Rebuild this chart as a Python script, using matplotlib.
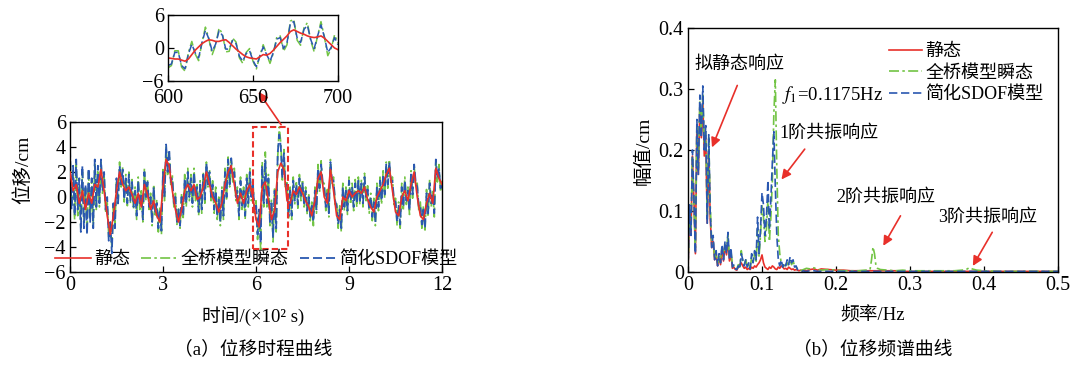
import numpy as np
import matplotlib
matplotlib.use('Agg')
import matplotlib.pyplot as plt
from matplotlib.patches import Rectangle

plt.rcParams['font.family'] = ['Liberation Serif', 'Noto Sans CJK SC', 'DejaVu Sans']
plt.rcParams['mathtext.fontset'] = 'stix'
plt.rcParams['axes.unicode_minus'] = True

# ---- time history (s, cm) ----
t_red = np.arange(0, 1201, 10)
disp_static = [
    2.0, 0.5, 1.0, -0.5, 0.5, -1.0, 0.3, -0.5, 1.0, 0.8,
    2.2, 0.5, -1.5, -3.0, -1.5, 0.5, 2.0, 1.0, 0.5, 0.8,
    0.2, -0.5, 0.3, -0.8, 1.0, 0.2, -1.0, -0.3, -1.5, -2.0,
    0.8, 3.0, 2.5, 0.5, -1.0, -2.0, -1.0, 0.5, 1.0, 0.5,
    1.0, -0.2, 0.0, 0.8, 2.0, 1.0, 0.0, -0.5, -1.2, -0.5,
    1.0, 2.0, 2.5, 1.0, -0.5, 0.3, -0.5, 0.5, 1.0, 0.0,
    -1.8, -2.4, 0.8, 1.2, -0.3, -1.8, -1.0, 2.0, 2.7, 2.2,
    -0.3, -0.5, 0.5, 0.2, 0.8, 0.3, -0.3, -0.8, -1.5, -0.3,
    1.5, 2.0, 0.0, -0.5, 2.2, 0.5, -1.5, -1.8, 0.0, -0.3,
    0.5, 0.0, 0.3, 0.5, 0.3, 0.8, -0.2, -0.8, -1.2, 0.0,
    0.5, 1.0, 1.8, 2.3, 0.5, -1.2, -1.5, 0.0, 0.5, -0.3,
    1.0, 2.0, 0.0, -1.5, -1.8, -0.5, 0.3, -0.5, 2.3, 1.5,
    1.0]

t_dyn = np.arange(0, 1201, 5)
disp_full = [
    3.2, -0.5, 2.0, -1.8, 2.8, -1.5, 1.0, -2.5, 2.0, -2.2,
    0.8, -2.8, 2.0, -1.8, 1.2, -2.2, 2.6, -1.0, 2.4, -0.8,
    2.8, 0.2, 1.8, -1.3, -0.3, -3.2, -2.2, -4.0, -0.8, -2.2,
    1.3, -0.7, 2.8, 0.8, 2.4, -0.4, 1.8, -0.7, 2.0, -0.5,
    1.4, -1.0, 0.8, -1.8, 1.6, -1.0, 0.5, -2.0, 2.3, -0.3,
    1.4, -1.0, 0.3, -2.3, 1.0, -1.6, -0.2, -2.8, -0.8, -3.0,
    2.2, -0.3, 4.0, 1.8, 3.6, 1.0, 1.8, -0.8, 0.3, -2.2,
    -0.8, -2.5, 0.3, -1.8, 1.8, -0.8, 2.3, -0.3, 1.8, -0.8,
    2.3, -0.3, 1.0, -1.5, 1.3, -1.3, 2.0, -0.5, 2.8, 0.8,
    2.2, -0.3, 1.3, -1.3, 0.8, -1.8, 0.0, -2.3, 0.8, -1.8,
    2.3, -0.3, 3.2, 0.8, 3.0, 1.2, 2.3, -0.3, 0.8, -1.8,
    1.6, -1.0, 0.8, -1.8, 1.8, -0.8, 2.3, -0.3, 1.3, -1.3,
    -0.3, -3.4, -1.3, -4.2, 2.8, -0.8, 3.6, -0.8, 1.8, -2.3,
    -0.2, -3.6, 0.8, -2.8, 3.2, 5.6, 4.3, 1.2, 3.8, 0.8,
    1.3, -1.8, 0.8, -1.8, 1.6, -0.6, 1.3, -0.9, 1.8, -0.3,
    1.4, -0.8, 0.8, -1.4, 0.3, -1.9, -0.4, -2.3, 0.8, -1.3,
    2.6, 0.4, 2.9, 0.9, 1.1, -1.1, 0.6, -1.6, 3.0, 1.1,
    1.6, -0.6, -0.4, -2.5, -0.7, -2.8, 1.1, -1.1, 0.8, -1.4,
    1.6, -0.6, 1.1, -1.1, 1.4, -0.8, 1.6, -0.6, 1.4, -0.8,
    1.9, -0.3, 0.9, -1.3, 0.3, -1.9, -0.1, -2.3, 1.1, -1.1,
    1.6, -0.6, 2.1, -0.1, 2.8, 0.7, 3.0, 1.0, 1.6, -0.6,
    -0.1, -2.3, -0.4, -2.5, 1.1, -1.1, 1.6, -0.6, 0.8, -1.4,
    2.1, -0.1, 2.5, 0.9, 1.1, -1.1, -0.4, -2.5, -0.7, -2.8,
    0.6, -1.6, 1.4, -0.8, 0.6, -1.6, 2.8, 1.2, 2.6, 0.4,
    1.3]
disp_sdof = [
    3.9, -1.0, 2.5, -1.5, 3.0, -1.0, 1.5, -2.8, 2.5, -2.5,
    1.0, -3.0, 2.3, -2.0, 1.5, -2.5, 3.0, -0.8, 2.5, -0.5,
    3.0, 0.5, 2.0, -1.0, 0.0, -3.5, -2.0, -4.5, -0.5, -2.5,
    1.5, -0.5, 2.5, 1.0, 2.2, -0.2, 1.5, -0.5, 1.8, -0.3,
    1.2, -0.8, 0.5, -1.5, 1.3, -0.7, 0.2, -1.8, 2.0, 0.0,
    1.2, -0.8, 0.0, -2.0, 0.8, -1.3, -0.5, -2.5, -1.0, -2.7,
    2.0, 0.0, 4.2, 2.0, 3.8, 1.2, 1.5, -0.5, 0.0, -2.0,
    -1.0, -2.3, 0.0, -1.5, 1.5, -0.5, 2.0, 0.0, 1.5, -0.5,
    2.0, 0.0, 0.8, -1.2, 1.0, -1.0, 1.8, -0.2, 2.7, 1.0,
    2.0, 0.0, 1.0, -1.0, 0.5, -1.5, -0.2, -2.0, 0.5, -1.5,
    2.0, 0.0, 3.0, 1.0, 3.1, 1.5, 2.0, 0.0, 0.5, -1.5,
    1.3, -0.7, 0.5, -1.5, 1.5, -0.5, 2.0, 0.0, 1.0, -1.0,
    -0.5, -3.0, -1.0, -3.7, 2.5, -0.5, 3.0, -0.5, 1.5, -2.0,
    -0.5, -3.2, 0.5, -2.5, 3.5, 5.0, 4.0, 1.5, 3.5, 1.0,
    1.0, -1.5, 0.5, -1.5, 1.3, -0.3, 1.0, -0.6, 1.5, 0.0,
    1.1, -0.5, 0.5, -1.1, 0.0, -1.6, -0.7, -2.0, 0.5, -1.0,
    2.3, 0.7, 2.6, 1.2, 0.8, -0.8, 0.3, -1.3, 2.8, 1.4,
    1.3, -0.3, -0.7, -2.2, -1.0, -2.5, 0.8, -0.8, 0.5, -1.1,
    1.3, -0.3, 0.8, -0.8, 1.1, -0.5, 1.3, -0.3, 1.1, -0.5,
    1.6, 0.0, 0.6, -1.0, 0.0, -1.6, -0.4, -2.0, 0.8, -0.8,
    1.3, -0.3, 1.8, 0.2, 2.6, 1.0, 2.8, 1.3, 1.3, -0.3,
    -0.4, -2.0, -0.7, -2.2, 0.8, -0.8, 1.3, -0.3, 0.5, -1.1,
    1.8, 0.2, 2.6, 1.2, 0.8, -0.8, -0.7, -2.2, -1.0, -2.5,
    0.3, -1.3, 1.1, -0.5, 0.3, -1.3, 3.0, 1.5, 2.3, 0.7,
    1.0]

# ---- zoomed window 600-700 s ----
t_zoom = np.arange(600, 701, 2)
zoom_static = [
    -1.8, -1.9, -2.0, -2.0, -2.2, -2.4, -2.0, -1.2, -0.4, 0.2,
    0.8, 1.2, 1.5, 1.4, 1.2, 1.2, 1.4, 1.5, 1.0, 0.4,
    -0.2, -0.7, -1.2, -1.6, -1.8, -1.9, -2.0, -1.6, -1.2, -1.3,
    -1.0, -0.4, 0.3, 1.0, 1.6, 2.2, 3.0, 3.3, 3.0, 2.7,
    2.5, 2.2, 2.0, 1.9, 2.0, 2.2, 1.8, 1.2, 0.6, 0.0,
    -0.3]
zoom_full = [
    -3.6, -3.2, -0.5, -0.5, -3.5, -4.2, -0.8, 1.2, -1.1, -2.3,
    1.0, 3.8, 1.7, -1.2, 0.5, 3.6, 2.6, -0.7, -0.6, 1.8,
    1.1, -1.8, -2.8, -0.8, -0.1, -2.4, -3.8, -1.4, 0.6, -1.1,
    -2.8, -0.9, 2.0, 2.2, -0.6, 0.6, 4.9, 5.2, 1.4, 0.5,
    3.7, 4.6, 1.3, -0.7, 2.2, 4.8, 2.0, -1.4, -0.1, 2.4,
    0.9]
zoom_sdof = [
    -3.2, -2.9, -0.8, -0.8, -3.2, -3.8, -1.1, 0.7, -0.9, -1.8,
    1.0, 3.2, 1.7, -0.6, 0.7, 3.1, 2.3, -0.2, -0.2, 1.4,
    0.8, -1.5, -2.4, -1.0, -0.5, -2.3, -3.4, -1.5, 0.2, -1.2,
    -2.4, -0.8, 1.6, 1.9, -0.1, 1.0, 4.5, 4.8, 1.8, 1.0,
    3.4, 4.1, 1.5, -0.1, 2.2, 4.2, 2.0, -0.8, 0.1, 1.9,
    0.6]

# ---- amplitude spectrum (Hz, cm) ----
f_low = np.arange(0, 0.1601, 0.002)
f_tail = [0.165, 0.17, 0.175, 0.18, 0.19, 0.2, 0.21, 0.22, 0.23, 0.24,
          0.246, 0.248, 0.25, 0.252, 0.254, 0.256, 0.26, 0.27, 0.28, 0.29,
          0.3, 0.32, 0.34, 0.36, 0.37, 0.376, 0.38, 0.384, 0.39, 0.4,
          0.42, 0.44, 0.46, 0.48, 0.5]
amp_static = [
    0.00, 0.10, 0.06, 0.19, 0.12, 0.03, 0.24, 0.16, 0.27, 0.22,
    0.28, 0.19, 0.22, 0.08, 0.20, 0.09, 0.04, 0.05, 0.02, 0.03,
    0.01, 0.025, 0.012, 0.04, 0.018, 0.045, 0.028, 0.05, 0.018, 0.03,
    0.006, 0.008, 0.004, 0.003, 0.008, 0.012, 0.015, 0.01, 0.006, 0.008,
    0.004, 0.006, 0.004, 0.008, 0.006, 0.01, 0.008, 0.012, 0.015, 0.02,
    0.028, 0.015, 0.008, 0.006, 0.004, 0.008, 0.006, 0.01, 0.008, 0.005,
    0.004, 0.008, 0.006, 0.01, 0.008, 0.005, 0.006, 0.004, 0.008, 0.006,
    0.004, 0.005, 0.003, 0.004, 0.003, 0.002, 0.003, 0.002, 0.002, 0.003,
    0.002,
    0.004, 0.005, 0.003, 0.005, 0.004, 0.003, 0.003, 0.002, 0.002, 0.002,
    0.002, 0.002, 0.002, 0.002, 0.002, 0.002, 0.002, 0.002, 0.002, 0.001,
    0.001, 0.001, 0.001, 0.001, 0.001, 0.001, 0.001, 0.001, 0.001, 0.001,
    0.001, 0.001, 0.001, 0.001, 0.001]
amp_full = [
    0.00, 0.10, 0.07, 0.19, 0.11, 0.04, 0.24, 0.17, 0.28, 0.23,
    0.29, 0.21, 0.23, 0.09, 0.22, 0.11, 0.05, 0.05, 0.025, 0.03,
    0.015, 0.025, 0.02, 0.04, 0.025, 0.045, 0.035, 0.06, 0.025, 0.035,
    0.01, 0.01, 0.006, 0.005, 0.012, 0.008, 0.035, 0.018, 0.012, 0.02,
    0.01, 0.012, 0.006, 0.025, 0.018, 0.03, 0.015, 0.07, 0.025, 0.06,
    0.11, 0.09, 0.05, 0.07, 0.12, 0.05, 0.09, 0.15, 0.26, 0.315,
    0.17, 0.06, 0.03, 0.015, 0.012, 0.01, 0.012, 0.015, 0.01, 0.02,
    0.012, 0.018, 0.01, 0.008, 0.005, 0.004, 0.003, 0.003, 0.004, 0.005,
    0.006,
    0.005, 0.007, 0.004, 0.003, 0.004, 0.003, 0.002, 0.002, 0.002, 0.003,
    0.004, 0.02, 0.041, 0.03, 0.01, 0.006, 0.004, 0.003, 0.002, 0.003,
    0.002, 0.002, 0.002, 0.002, 0.003, 0.004, 0.007, 0.005, 0.003, 0.002,
    0.001, 0.001, 0.001, 0.001, 0.001]
amp_sdof = [
    0.00, 0.11, 0.06, 0.20, 0.12, 0.03, 0.25, 0.16, 0.29, 0.22,
    0.305, 0.20, 0.24, 0.08, 0.225, 0.10, 0.04, 0.06, 0.02, 0.035,
    0.01, 0.03, 0.015, 0.045, 0.02, 0.05, 0.03, 0.065, 0.02, 0.04,
    0.008, 0.012, 0.005, 0.004, 0.01, 0.005, 0.03, 0.02, 0.01, 0.02,
    0.008, 0.015, 0.005, 0.03, 0.015, 0.035, 0.02, 0.09, 0.03, 0.07,
    0.13, 0.11, 0.06, 0.09, 0.15, 0.07, 0.12, 0.18, 0.23, 0.14,
    0.06, 0.02, 0.01, 0.02, 0.008, 0.015, 0.01, 0.02, 0.012, 0.025,
    0.015, 0.02, 0.008, 0.01, 0.004, 0.003, 0.002, 0.001, 0.002, 0.001,
    0.001,
    0.002, 0.002, 0.001, 0.001, 0.001, 0.001, 0.001, 0.001, 0.001, 0.001,
    0.001, 0.001, 0.001, 0.001, 0.001, 0.001, 0.001, 0.001, 0.001, 0.001,
    0.001, 0.001, 0.001, 0.001, 0.001, 0.001, 0.001, 0.001, 0.001, 0.001,
    0.001, 0.001, 0.001, 0.001, 0.001]
freq = np.concatenate([f_low, f_tail])

labels = ['静态', '全桥模型瞬态', '简化SDOF模型']
c_red, c_green, c_blue = '#e8302a', '#72c444', '#2a58b0'
ls_green = (0, (6, 2, 1.5, 2))
ls_blue = (0, (5, 2.2))

fig = plt.figure(figsize=(10.75, 3.67), dpi=100)


def style_axes(ax, fs=14.5, xpad=3):
    ax.tick_params(direction='in', length=4, width=0.9, labelsize=fs,
                   top=False, right=False, pad=3)
    ax.tick_params(axis='x', pad=xpad)
    for s in ax.spines.values():
        s.set_linewidth(1.0)


# ---- (a) time history ----
ax1 = fig.add_axes([0.0651, 0.2589, 0.3461, 0.4087])
ax1.plot(t_red, disp_static, color=c_red, lw=1.2, label=labels[0], zorder=3)
ax1.plot(t_dyn, disp_full, color=c_green, lw=1.2, ls=ls_green, label=labels[1])
ax1.plot(t_dyn, disp_sdof, color=c_blue, lw=1.3, ls=ls_blue, label=labels[2])
ax1.set_xlim(0, 1200)
ax1.set_ylim(-6, 6)
ax1.set_xticks([0, 300, 600, 900, 1200])
ax1.set_xticklabels(['0', '3', '6', '9', '12'])
ax1.set_yticks([-6, -4, -2, 0, 2, 4, 6])
style_axes(ax1)
ax1.legend(loc='lower center', bbox_to_anchor=(0.5, -0.035), ncol=3,
           frameon=False, fontsize=13, handlelength=2.0, handletextpad=0.2,
           columnspacing=0.6, borderaxespad=0.1)
ax1.add_patch(Rectangle((590, -4.2), 113, 9.8, fill=False, ec=c_red,
                        lw=1.5, ls=(0, (3, 1.5)), zorder=5))
ax1.annotate('', xy=(603, 8.6), xytext=(686, 5.6), annotation_clip=False,
             arrowprops=dict(arrowstyle='-|>', color=c_red, lw=1.2,
                             mutation_scale=14))

# inset 600-700 s
ax_in = fig.add_axes([0.1563, 0.7793, 0.1581, 0.1798])
ax_in.plot(t_zoom, zoom_full, color=c_green, lw=1.1, ls=ls_green)
ax_in.plot(t_zoom, zoom_sdof, color=c_blue, lw=1.1, ls=ls_blue)
ax_in.plot(t_zoom, zoom_static, color=c_red, lw=1.2)
ax_in.set_xlim(600, 700)
ax_in.set_ylim(-6, 6)
ax_in.set_xticks([600, 650, 700])
ax_in.set_yticks([-6, 0, 6])
style_axes(ax_in, xpad=6)

fig.text(0.2353, 0.139, '时间/(×10² s)', ha='center', va='center', fontsize=13.5)
fig.text(0.021, 0.537, '位移/cm', ha='center', va='center', rotation=90, fontsize=14)
fig.text(0.2353, 0.046, '（a）位移时程曲线', ha='center', va='center', fontsize=13.5)

# ---- (b) spectrum ----
ax2 = fig.add_axes([0.64, 0.2589, 0.3442, 0.6649])
ax2.plot(freq, amp_static, color=c_red, lw=1.2, label=labels[0])
ax2.plot(freq, amp_full, color=c_green, lw=1.2, ls=ls_green, label=labels[1])
ax2.plot(freq, amp_sdof, color=c_blue, lw=1.2, ls=ls_blue, label=labels[2])
ax2.set_xlim(0, 0.5)
ax2.set_ylim(0, 0.4)
ax2.set_xticks([0, 0.1, 0.2, 0.3, 0.4, 0.5])
ax2.set_xticklabels(['0', '0.1', '0.2', '0.3', '0.4', '0.5'])
ax2.set_yticks([0, 0.1, 0.2, 0.3, 0.4])
ax2.set_yticklabels(['0', '0.1', '0.2', '0.3', '0.4'])
style_axes(ax2)
ax2.legend(loc='upper right', bbox_to_anchor=(0.995, 0.99), frameon=False,
           fontsize=13, handlelength=1.8, handletextpad=0.2,
           labelspacing=0.25, borderaxespad=0.3)

arrow = dict(arrowstyle='-|>', color=c_red, lw=1.2, mutation_scale=14)
ax2.text(0.070, 0.340, '拟静态响应', ha='center', va='center', fontsize=13)
ax2.annotate('', xy=(0.031, 0.200), xytext=(0.068, 0.310), arrowprops=arrow)
ax2.text(0.127, 0.290, '$f_1$=0.1175Hz', ha='left', va='center', fontsize=13.5)
ax2.text(0.124, 0.228, '1阶共振响应', ha='left', va='center', fontsize=13)
ax2.annotate('', xy=(0.124, 0.148), xytext=(0.160, 0.205), arrowprops=arrow)
ax2.text(0.200, 0.123, '2阶共振响应', ha='left', va='center', fontsize=13)
ax2.annotate('', xy=(0.262, 0.039), xytext=(0.289, 0.096), arrowprops=arrow)
ax2.text(0.338, 0.090, '3阶共振响应', ha='left', va='center', fontsize=13)
ax2.annotate('', xy=(0.383, 0.006), xytext=(0.413, 0.069), arrowprops=arrow)

fig.text(0.5985, 0.59, '幅值/cm', ha='center', va='center', rotation=90, fontsize=14)
fig.text(0.812, 0.139, '频率/Hz', ha='center', va='center', fontsize=13.5)
fig.text(0.812, 0.046, '（b）位移频谱曲线', ha='center', va='center', fontsize=13.5)

fig.savefig('out.png', dpi=100)
